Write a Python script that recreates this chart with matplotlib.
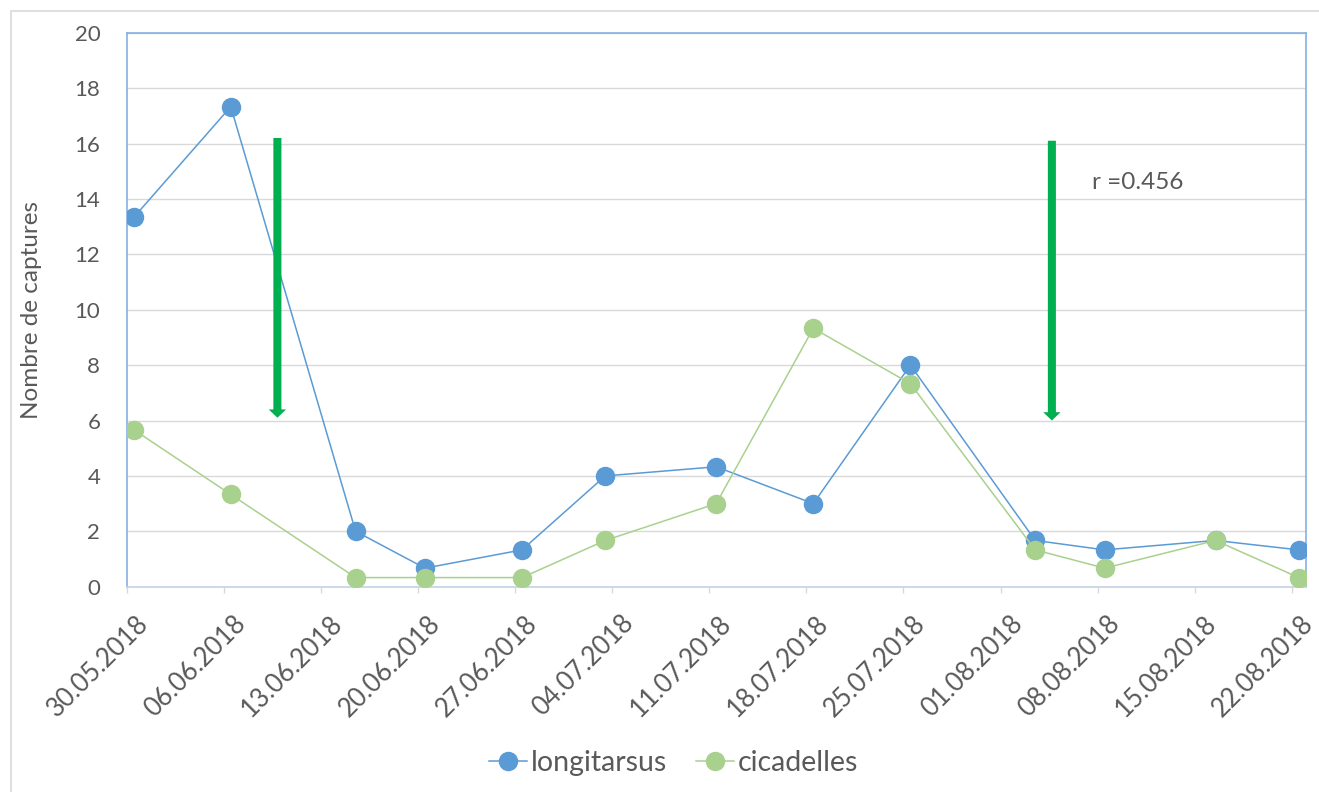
import numpy as np
import pandas as pd
import matplotlib
matplotlib.use("Agg")
import matplotlib.pyplot as plt
import matplotlib.dates as mdates
import matplotlib.transforms as mtransforms
from matplotlib.patches import Rectangle

# ----------------------- DATA -----------------------
dates = ["2018-05-30", "2018-06-06", "2018-06-15", "2018-06-20", "2018-06-27",
         "2018-07-03", "2018-07-11", "2018-07-18", "2018-07-25", "2018-08-03",
         "2018-08-08", "2018-08-16", "2018-08-22"]
longitarsus = [13.33, 17.33, 2.0, 0.67, 1.33, 4.0, 4.33, 3.0, 8.0, 1.67, 1.33, 1.67, 1.33]
cicadelles = [5.67, 3.33, 0.33, 0.33, 0.33, 1.67, 3.0, 9.33, 7.33, 1.33, 0.67, 1.67, 0.33]

tick_start = "2018-05-30"
tick_end = "2018-08-22"
arrow_dates = ["2018-06-09 20:40", "2018-08-04 16:50"]
arrow_top = [16.2, 16.1]
arrow_tip = [6.1, 6.0]
r_label = "r =0.456"

# ----------------------- STYLE -----------------------
BLUE = "#5B9BD5"
GREEN = "#A9D18E"
ARROW = "#00B050"
TEXT = "#595959"
GRID = "#D9D9D9"

plt.rcParams["font.family"] = ["Lato", "DejaVu Sans"]

fig = plt.figure(figsize=(13.19, 7.92), dpi=100)
ax = fig.add_axes([0.0961, 0.2592, 0.8938, 0.6995])

# Excel date axis puts each point in the middle of its day
x = pd.to_datetime(dates) + pd.Timedelta(hours=12)

ax.plot(x, longitarsus, color=BLUE, lw=1.1, marker="o", ms=13, mec=BLUE,
        label="longitarsus", zorder=3)
ax.plot(x, cicadelles, color=GREEN, lw=1.1, marker="o", ms=13, mec=GREEN,
        label="cicadelles", zorder=4)

# arrows
for d, top, tip in zip(arrow_dates, arrow_top, arrow_tip):
    xd = mdates.date2num(pd.Timestamp(d))
    ax.arrow(xd, top, 0, tip - top, width=0.58, head_width=1.25, head_length=0.3,
             length_includes_head=True, color=ARROW, lw=0, zorder=5)

ax.text(mdates.date2num(pd.Timestamp("2018-08-07 14:00")), 14.6, r_label,
        color=TEXT, fontsize=17.5, va="center", ha="left")

# axes
ax.set_ylim(0, 20)
ax.set_yticks(np.arange(0, 21, 2))
ax.set_xlim(pd.Timestamp("2018-05-30"), pd.Timestamp("2018-08-23"))
ax.set_xticks(pd.date_range(tick_start, tick_end, freq="7D"))
ax.xaxis.set_major_formatter(mdates.DateFormatter("%d.%m.%Y"))

ax.grid(axis="y", color=GRID, lw=1.0)
ax.set_axisbelow(True)

for side in ["top", "left", "right"]:
    ax.spines[side].set_color("#86B0E0")
    ax.spines[side].set_linewidth(1.2)
ax.spines["bottom"].set_color("#C5D3E6")
ax.spines["bottom"].set_linewidth(1.2)

ax.tick_params(axis="y", length=0, pad=19, labelsize=16, labelcolor=TEXT)
ax.tick_params(axis="x", length=4, width=1, color=GRID, pad=19.5,
               labelsize=18.5, labelcolor=TEXT)
offset = mtransforms.ScaledTranslation(0.18, 0, fig.dpi_scale_trans)
for lab in ax.get_xticklabels():
    lab.set_rotation(45)
    lab.set_rotation_mode("anchor")
    lab.set_ha("right")
    lab.set_va("center")
    lab.set_transform(lab.get_transform() + offset)

ax.set_ylabel("Nombre de captures", fontsize=17.5, color=TEXT)
ax.yaxis.set_label_coords(-0.072, 0.5)

fig.legend(loc="center", bbox_to_anchor=(0.5106, 0.037), ncol=2, frameon=False,
           fontsize=20.5, labelcolor=TEXT, handlelength=1.33, handletextpad=0.14,
           columnspacing=1.0, borderaxespad=0)

# chart border (only left/top visible in the crop)
fig.add_artist(Rectangle((11 / 1319, -0.05), 1.2, 1 - 11 / 792 + 0.05,
                         transform=fig.transFigure, fill=False, ec=GRID, lw=1.2))

fig.savefig("out.png", dpi=100)
